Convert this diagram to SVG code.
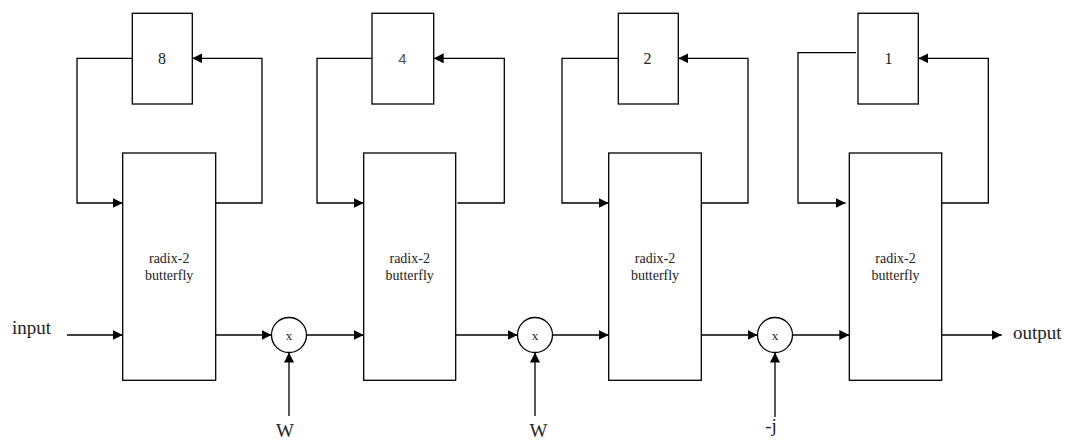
<svg xmlns="http://www.w3.org/2000/svg" width="1066" height="441" viewBox="0 0 1066 441">
  <style>
    .box { fill: #ffffff; stroke: #000000; stroke-width: 1.3; }
    .wire { fill: none; stroke: #000000; stroke-width: 1.3; }
    .arrow { marker-end: url(#head); }
    .lbl { font-family: "Liberation Serif", "Times New Roman", serif; fill: #222222; text-anchor: middle; }
    .big { font-size: 19px; }
    .mid { font-size: 14px; }
    .dig { font-size: 16px; }
    .mul { font-size: 13px; }
  </style>
  <defs>
    <marker id="head" viewBox="0 0 10 10" refX="10" refY="5" markerWidth="10" markerHeight="10" markerUnits="userSpaceOnUse" orient="auto">
      <path d="M0,0 L10,5 L0,10 Z" fill="#000000"/>
    </marker>
  </defs>

  <rect width="1066" height="441" fill="#ffffff"/>

  <!-- connectors -->
  <g id="connectors">
    <!-- main signal path -->
    <line class="wire arrow" x1="67" y1="335" x2="122.7" y2="335"/>
    <line class="wire arrow" x1="215.7" y1="335" x2="271.5" y2="335"/>
    <line class="wire arrow" x1="306.5" y1="335" x2="363.7" y2="335"/>
    <line class="wire arrow" x1="455.7" y1="335" x2="517.5" y2="335"/>
    <line class="wire arrow" x1="552.5" y1="335" x2="608.7" y2="335"/>
    <line class="wire arrow" x1="701.3" y1="335" x2="757.5" y2="335"/>
    <line class="wire arrow" x1="792.5" y1="335" x2="849.3" y2="335"/>
    <line class="wire arrow" x1="941.7" y1="335" x2="1001.7" y2="335"/>

    <!-- twiddle inputs -->
    <line class="wire arrow" x1="289" y1="416" x2="289" y2="352.5"/>
    <line class="wire arrow" x1="535" y1="416" x2="535" y2="352.5"/>
    <line class="wire arrow" x1="775" y1="417" x2="775" y2="352.5"/>

    <!-- stage 1 delay loop -->
    <polyline class="wire arrow" points="132.3,58.3 77,58.3 77,203 122.7,203"/>
    <polyline class="wire arrow" points="215.7,203 262,203 262,58.3 192.3,58.3"/>
    <!-- stage 2 delay loop -->
    <polyline class="wire arrow" points="372,58.3 317,58.3 317,203 363.7,203"/>
    <polyline class="wire arrow" points="457.5,203 504.3,203 504.3,58.3 433.7,58.3"/>
    <!-- stage 3 delay loop -->
    <polyline class="wire arrow" points="618.3,58.3 562,58.3 562,203 608.7,203"/>
    <polyline class="wire arrow" points="701.3,203 748,203 748,58.3 678.3,58.3"/>
    <!-- stage 4 delay loop -->
    <polyline class="wire arrow" points="856,52.7 798,52.7 798,203 845.5,203"/>
    <polyline class="wire arrow" points="941.7,203 988.3,203 988.3,58.3 918.3,58.3"/>
  </g>

  <!-- delay buffers -->
  <g id="delay8">
    <rect class="box" x="132.3" y="13.3" width="60" height="90.7"/>
    <text class="lbl dig" x="162" y="64">8</text>
  </g>
  <g id="delay4">
    <rect class="box" x="372" y="13.3" width="61.7" height="90.7"/>
    <text class="lbl dig" x="402.5" y="64" style="font-family: 'Liberation Sans', Arial, sans-serif; font-size: 15px; fill: #555555;">4</text>
  </g>
  <g id="delay2">
    <rect class="box" x="618.3" y="13.3" width="60" height="90.7"/>
    <text class="lbl dig" x="647.5" y="64">2</text>
  </g>
  <g id="delay1">
    <rect class="box" x="858" y="13.3" width="60.3" height="90.7"/>
    <text class="lbl dig" x="888.5" y="64">1</text>
  </g>

  <!-- butterfly units -->
  <g id="bf1">
    <rect class="box" x="122.7" y="153" width="93" height="227.3"/>
    <text class="lbl mid" x="169.2" y="263">radix-2</text>
    <text class="lbl mid" x="169.2" y="280">butterfly</text>
  </g>
  <g id="bf2">
    <rect class="box" x="363.7" y="153" width="92" height="227.3"/>
    <text class="lbl mid" x="409.7" y="263">radix-2</text>
    <text class="lbl mid" x="409.7" y="280">butterfly</text>
  </g>
  <g id="bf3">
    <rect class="box" x="608.7" y="153" width="92.6" height="227.3"/>
    <text class="lbl mid" x="655" y="263">radix-2</text>
    <text class="lbl mid" x="655" y="280">butterfly</text>
  </g>
  <g id="bf4">
    <rect class="box" x="849.3" y="153" width="92.4" height="227.3"/>
    <text class="lbl mid" x="895.5" y="263">radix-2</text>
    <text class="lbl mid" x="895.5" y="280">butterfly</text>
  </g>

  <!-- twiddle multipliers -->
  <g id="mul1">
    <circle class="box" cx="289" cy="335" r="17.5"/>
    <text class="lbl mul" x="289" y="340">x</text>
  </g>
  <g id="mul2">
    <circle class="box" cx="535" cy="335" r="17.5"/>
    <text class="lbl mul" x="535" y="340">x</text>
  </g>
  <g id="mul3">
    <circle class="box" cx="775" cy="335" r="17.5"/>
    <text class="lbl mul" x="775" y="340">x</text>
  </g>

  <!-- port labels -->
  <g id="in">
    <text class="lbl big" x="12" y="334" style="text-anchor: start;">input</text>
  </g>
  <g id="out">
    <text class="lbl big" x="1013" y="339" style="text-anchor: start;">output</text>
  </g>
  <g id="w1">
    <text class="lbl big" x="285" y="437">W</text>
  </g>
  <g id="w2">
    <text class="lbl big" x="538.5" y="437">W</text>
  </g>
  <g id="negj">
    <text class="lbl big" x="771" y="432">-j</text>
  </g>
</svg>
